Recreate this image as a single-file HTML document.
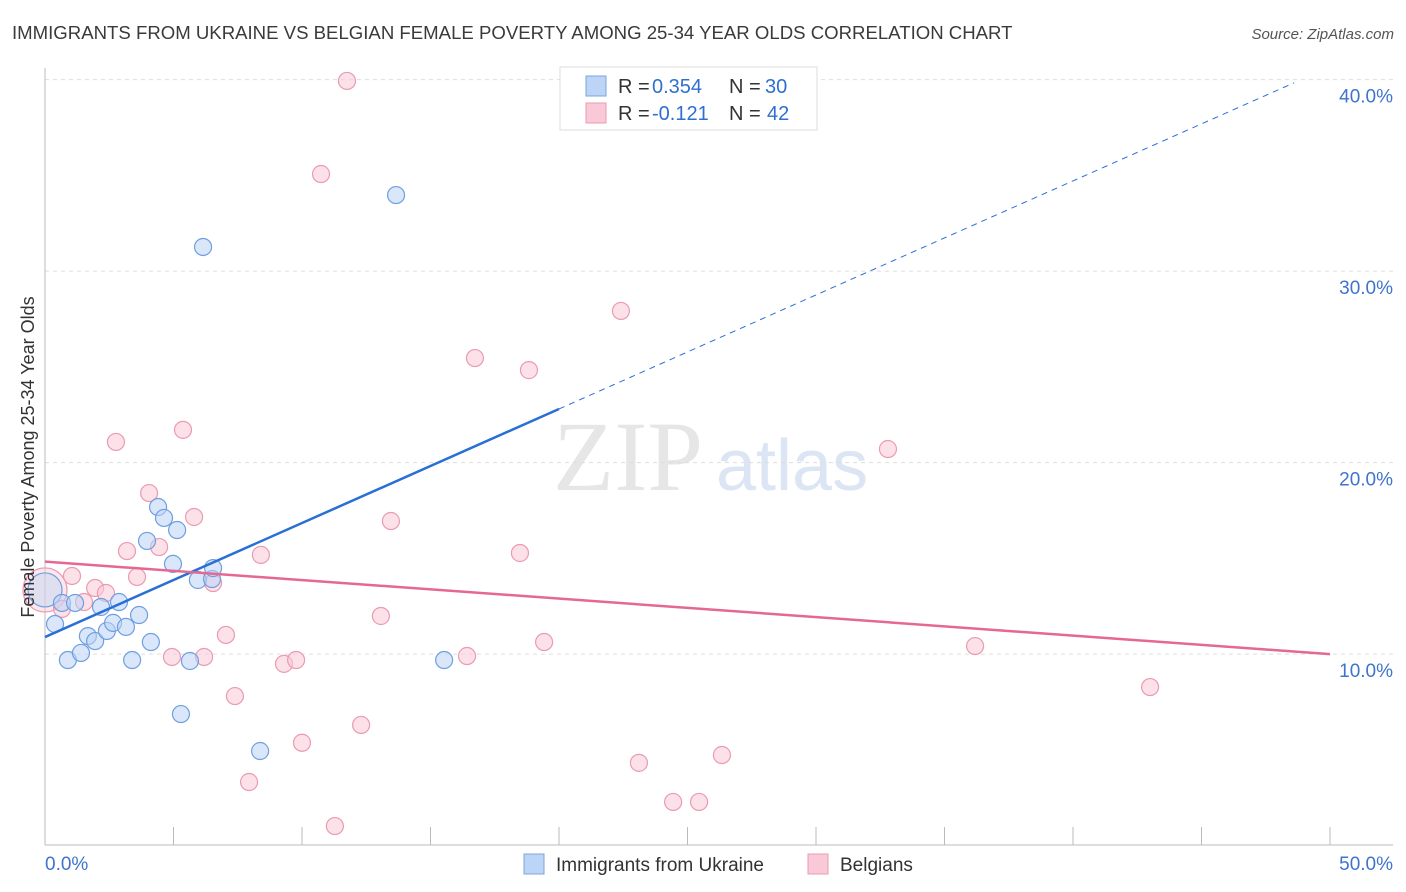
<!DOCTYPE html>
<html><head><meta charset="utf-8"><style>
body{margin:0;background:#fff;font-family:"Liberation Sans",sans-serif;}
svg{display:block}
</style></head><body>
<svg id="chart" width="1406" height="892" xmlns="http://www.w3.org/2000/svg">
<text x="12" y="39" font-size="18.6" fill="#3a3a3a">IMMIGRANTS FROM UKRAINE VS BELGIAN FEMALE POVERTY AMONG 25-34 YEAR OLDS CORRELATION CHART</text>
<text x="1394" y="39" font-size="15" font-style="italic" fill="#555" text-anchor="end">Source: ZipAtlas.com</text>
<g>
<text x="553" y="490" font-size="100" font-family="Liberation Serif,serif" fill="#e6e6e6">ZIP</text>
<text x="716" y="490" font-size="72" fill="#dbe5f4">atlas</text>
</g>
<g id="grid"></g>
<g id="axes"></g>
<g id="marks"></g>
<text transform="translate(34,457) rotate(-90)" font-size="18" fill="#333" text-anchor="middle">Female Poverty Among 25-34 Year Olds</text>
<g>
<rect x="560" y="67" width="257" height="63" fill="#fff" stroke="#ddd"/>
<rect x="586" y="76" width="20" height="20" fill="#bcd4f5" stroke="#7aa6e0"/>
<rect x="586" y="103" width="20" height="20" fill="#f9c9d7" stroke="#eb9ab3"/>
<text x="618" y="93" font-size="20" fill="#333">R =</text>
<text x="652" y="93" font-size="20" fill="#2f6fd0">0.354</text>
<text x="729" y="93" font-size="20" fill="#333">N =</text>
<text x="765" y="93" font-size="20" fill="#2f6fd0">30</text>
<text x="618" y="120" font-size="20" fill="#333">R =</text>
<text x="652" y="120" font-size="20" fill="#2f6fd0">-0.121</text>
<text x="729" y="120" font-size="20" fill="#333">N =</text>
<text x="767" y="120" font-size="20" fill="#2f6fd0">42</text>
</g>
<g>
<rect x="524" y="854" width="20" height="20" fill="#bcd4f5" stroke="#7aa6e0"/>
<text x="556" y="871" font-size="19" fill="#333">Immigrants from Ukraine</text>
<rect x="808" y="854" width="20" height="20" fill="#f9c9d7" stroke="#eb9ab3"/>
<text x="840" y="871" font-size="19" fill="#333">Belgians</text>
</g>
</svg>
<script>
const xTicks=[0,5,10,15,20,25,30,35,40,45,50];
const yTicks=[10,20,30,40];
const yTickLabels=["10.0%","20.0%","30.0%","40.0%"];
const xEndLabels=["0.0%","50.0%"];
const ukraineX=[0,0.39,0.66,0.89,1.17,1.40,1.67,1.95,2.18,2.41,2.65,2.88,3.15,3.39,3.66,3.97,4.12,4.40,4.63,4.98,5.14,5.29,5.64,5.95,6.15,6.50,6.54,8.37,13.66,15.53];
const ukraineY=[13.35,11.57,12.67,9.69,12.67,10.06,10.94,10.68,12.46,11.21,11.63,12.72,11.42,9.69,12.04,15.91,10.63,17.68,17.11,14.71,16.48,6.87,9.64,13.87,31.26,13.92,14.49,4.94,33.97,9.69];
const belgX=[0,0.66,1.05,1.52,1.95,2.37,2.76,3.19,3.58,4.05,4.44,4.94,5.37,5.80,6.19,6.54,7.04,7.39,7.94,8.40,9.30,9.77,10.0,10.74,11.28,11.75,12.30,13.07,13.46,16.42,16.73,18.48,18.83,19.42,22.41,23.11,24.44,25.45,26.34,32.80,36.19,43.0];
const belgY=[13.35,12.36,14.08,12.72,13.45,13.19,21.08,15.38,14.03,18.41,15.59,9.85,21.71,17.16,9.85,13.71,11.0,7.81,3.32,15.18,9.49,9.69,5.37,35.07,1.02,39.93,6.30,11.99,16.95,9.90,25.46,15.28,24.83,10.63,27.92,4.32,2.28,2.28,4.73,20.71,10.42,8.28];
const ukraineTrend=[10.89,0.5955];
const belgTrend=[14.83,-0.0966];
const NS="http://www.w3.org/2000/svg";
const X=v=>45+v*25.7, Y=v=>845.6-v*19.15;
function mk(parent,tag,attrs){const e=document.createElementNS(NS,tag);for(const k in attrs)e.setAttribute(k,attrs[k]);document.getElementById(parent).appendChild(e);return e;}
yTicks.forEach((t,i)=>{
 const g=mk('grid','line',{x1:45,x2:1393,y1:Y(t),y2:Y(t),stroke:'#ddd','stroke-dasharray':'4,4'});
 
 
 const l=mk('axes','text',{x:1393,y:Y(t)+23,'font-size':19,fill:'#3f74cc','text-anchor':'end'});l.textContent=yTickLabels[i];
 
 
});
const ax=mk('axes','line',{x1:45,x2:45,y1:68,y2:845,stroke:'#bbb'});


const bx=mk('axes','line',{x1:45,x2:1393,y1:845,y2:845,stroke:'#bbb'});


xTicks.forEach(t=>{const e=mk('axes','line',{x1:X(t),x2:X(t),y1:827,y2:845,stroke:'#bbb'});
 
 });
[[0,'start',45],[1,'end',1393]].forEach(([i,a,x])=>{const e=mk('axes','text',{x:x,y:870,'font-size':19,fill:'#3f74cc','text-anchor':a});e.textContent=xEndLabels[i];
 
 });
function dots(xs,ys,fill,stroke,name){xs.forEach((x,i)=>{const big=i===0;const c=mk('marks','circle',{cx:X(x),cy:Y(ys[i]),r:big?(name==='belgian-point'?22:17):8.5,fill:fill,'fill-opacity':big?0.45:0.55,stroke:stroke,'stroke-width':1.2});
 
 });}
dots(belgX,belgY,'#f9c9d7','#eb9ab3','belgian-point');
dots(ukraineX,ukraineY,'#bcd4f5','#6f9fe0','ukraine-point');
const ls=mk('marks','line',{x1:X(0),y1:Y(ukraineTrend[0]),x2:X(20),y2:Y(ukraineTrend[0]+20*ukraineTrend[1]),stroke:'#2a6fd6','stroke-width':2.5});


const ld=mk('marks','line',{x1:X(20),y1:Y(ukraineTrend[0]+20*ukraineTrend[1]),x2:X(48.6),y2:Y(ukraineTrend[0]+48.6*ukraineTrend[1]),stroke:'#2a6fd6','stroke-width':1,'stroke-dasharray':'6,5'});


const lp=mk('marks','line',{x1:X(0),y1:Y(belgTrend[0]),x2:X(50),y2:Y(belgTrend[0]+50*belgTrend[1]),stroke:'#e46892','stroke-width':2.5});


</script>
</body></html>
